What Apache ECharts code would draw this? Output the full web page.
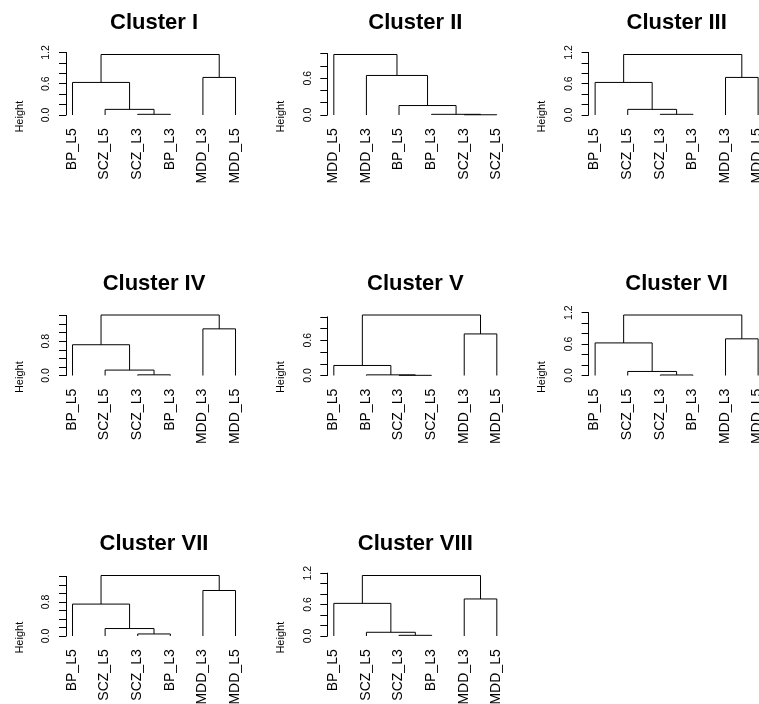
<!DOCTYPE html>
<html><head><meta charset="utf-8">
<script src="https://cdn.jsdelivr.net/npm/echarts@6/dist/echarts.min.js"></script>
<style>html,body{margin:0;padding:0;background:#fff}#c{width:759px;height:704px}</style>
</head><body><div id="c"></div>
<script>
// ---------- data ----------
const titles = ['Cluster I','Cluster II','Cluster III','Cluster IV','Cluster V','Cluster VI','Cluster VII','Cluster VIII'];

const c1Leaves = ['BP_L5','SCZ_L5','SCZ_L3','BP_L3','MDD_L3','MDD_L5'];
const c1Merges = [['SCZ_L3','BP_L3',0.013],['SCZ_L5',1,0.108],['BP_L5',2,0.625],['MDD_L3','MDD_L5',0.721],[3,4,1.161]];
const c1Ticks = ['0.0','0.6','1.2'];
const c1Top = 1.2;

const c2Leaves = ['MDD_L5','MDD_L3','BP_L5','BP_L3','SCZ_L3','SCZ_L5'];
const c2Merges = [['SCZ_L3','SCZ_L5',0.004],['BP_L3',1,0.011],['BP_L5',2,0.154],['MDD_L3',3,0.643],['MDD_L5',4,0.984]];
const c2Ticks = ['0.0','0.6'];
const c2Top = 1.0;

const c3Leaves = ['BP_L5','SCZ_L5','SCZ_L3','BP_L3','MDD_L3','MDD_L5'];
const c3Merges = [['SCZ_L3','BP_L3',0.013],['SCZ_L5',1,0.108],['BP_L5',2,0.625],['MDD_L3','MDD_L5',0.721],[3,4,1.161]];
const c3Ticks = ['0.0','0.6','1.2'];
const c3Top = 1.2;

const c4Leaves = ['BP_L5','SCZ_L5','SCZ_L3','BP_L3','MDD_L3','MDD_L5'];
const c4Merges = [['SCZ_L3','BP_L3',0.016],['SCZ_L5',1,0.126],['BP_L5',2,0.717],['MDD_L3','MDD_L5',1.087],[3,4,1.41]];
const c4Ticks = ['0.0','0.8'];
const c4Top = 1.4;

const c5Leaves = ['BP_L5','BP_L3','SCZ_L3','SCZ_L5','MDD_L3','MDD_L5'];
const c5Merges = [['SCZ_L3','SCZ_L5',0.003],['BP_L3',1,0.011],['BP_L5',2,0.171],['MDD_L3','MDD_L5',0.709],[3,4,1.032]];
const c5Ticks = ['0.0','0.6'];
const c5Top = 1.0;

const c6Leaves = ['BP_L5','SCZ_L5','SCZ_L3','BP_L3','MDD_L3','MDD_L5'];
const c6Merges = [['SCZ_L3','BP_L3',0.010],['SCZ_L5',1,0.077],['BP_L5',2,0.622],['MDD_L3','MDD_L5',0.700],[3,4,1.155]];
const c6Ticks = ['0.0','0.6','1.2'];
const c6Top = 1.2;

const c7Leaves = ['BP_L5','SCZ_L5','SCZ_L3','BP_L3','MDD_L3','MDD_L5'];
const c7Merges = [['SCZ_L3','BP_L3',0.048],['SCZ_L5',1,0.175],['BP_L5',2,0.749],['MDD_L3','MDD_L5',1.068],[3,4,1.42]];
const c7Ticks = ['0.0','0.8'];
const c7Top = 1.4;

const c8Leaves = ['BP_L5','SCZ_L5','SCZ_L3','BP_L3','MDD_L3','MDD_L5'];
const c8Merges = [['SCZ_L3','BP_L3',0.013],['SCZ_L5',1,0.071],['BP_L5',2,0.623],['MDD_L3','MDD_L5',0.707],[3,4,1.155]];
const c8Ticks = ['0.0','0.6','1.2'];
const c8Top = 1.2;

const panels = [
  [c1Leaves,c1Merges,c1Ticks,c1Top],[c2Leaves,c2Merges,c2Ticks,c2Top],[c3Leaves,c3Merges,c3Ticks,c3Top],
  [c4Leaves,c4Merges,c4Ticks,c4Top],[c5Leaves,c5Merges,c5Ticks,c5Top],[c6Leaves,c6Merges,c6Ticks,c6Top],
  [c7Leaves,c7Merges,c7Ticks,c7Top],[c8Leaves,c8Merges,c8Ticks,c8Top]
];

// ---------- layout ----------
const FONT = "'Liberation Sans', Arial, Helvetica, sans-serif";
const COL_W = 261.3, ROW_H = 260.5;
const AXIS_X0 = 66, Y0_0 = 115;
const LEAF_STEP = 32.6, XMIN = 0.8, XMAX = 6.2;
const D = 60.5; // pixel distance from 0 to the top merge

const grids = [], xAxes = [], yAxes = [], series = [], graphics = [];

panels.forEach((p, k) => {
  const [leaves, merges, ticks, yTop] = p;
  const col = k % 3, row = Math.floor(k / 3);
  // node positions derived from merge table
  const nodeX = [], nodeH = [];
  const childPos = c => {
    if (typeof c === 'string') return [leaves.indexOf(c) + 1, 0];
    return [nodeX[c - 1], nodeH[c - 1]];
  };
  const segData = [];
  merges.forEach(m => {
    const [a, b, h] = m;
    const pa = childPos(a), pb = childPos(b);
    nodeX.push((pa[0] + pb[0]) / 2);
    nodeH.push(h);
    segData.push([pa[0], pa[1], pb[0], pb[1], h]);
  });
  const hMax = Math.max(...nodeH);
  const s = D / hMax;
  const left = AXIS_X0 + col * COL_W;
  const width = (XMAX - XMIN) * LEAF_STEP;
  const y0 = Y0_0 + row * ROW_H;
  const gh = yTop * s;
  grids.push({left: left, top: y0 - gh, width: width, height: gh, outerBoundsMode: 'none', containLabel: false});
  xAxes.push({gridIndex: k, type: 'value', min: XMIN, max: XMAX, show: false});
  yAxes.push({
    gridIndex: k, type: 'value', min: 0, max: yTop, interval: 0.2,
    axisLine: {show: true, lineStyle: {color: '#000', width: 1}},
    axisTick: {show: true, length: 7, lineStyle: {color: '#000', width: 1}},
    splitLine: {show: false},
    axisLabel: {
      rotate: 90, margin: 14, fontSize: 10.5, fontFamily: FONT, color: '#000',
      showMinLabel: true, showMaxLabel: true,
      formatter: v => { const t = (Math.round(v * 10) / 10).toFixed(1); return ticks.includes(t) ? t : ''; }
    }
  });
  series.push({
    type: 'custom', xAxisIndex: k, yAxisIndex: k, silent: true, animation: false, clip: false,
    encode: {x: [0, 2], y: [1, 3, 4]},
    data: segData,
    renderItem: (params, api) => {
      const p0 = api.coord([api.value(0), api.value(1)]);
      const p1 = api.coord([api.value(0), api.value(4)]);
      const p2 = api.coord([api.value(2), api.value(4)]);
      const p3 = api.coord([api.value(2), api.value(3)]);
      return {type: 'polyline', shape: {points: [p0, p1, p2, p3]}, style: {stroke: '#000', lineWidth: 1, fill: null}};
    }
  });
  series.push({
    type: 'custom', xAxisIndex: k, yAxisIndex: k, silent: true, animation: false, clip: false,
    encode: {x: 0, y: 1},
    data: leaves.map((l, i) => [i + 1, 0]),
    renderItem: (params, api) => {
      const pt = api.coord([api.value(0), api.value(1)]);
      return {type: 'text', x: pt[0] - 0.5, y: pt[1] + 13.3, rotation: Math.PI / 2,
        style: {text: leaves[params.dataIndex], align: 'right', verticalAlign: 'middle', textAlign: 'right', textVerticalAlign: 'middle',
          font: '14px ' + FONT, fill: '#000'}};
    }
  });
  graphics.push({type: 'text', x: left + width / 2, y: row * ROW_H + 23, silent: true,
    style: {text: titles[k], align: 'center', verticalAlign: 'middle', textAlign: 'center', textVerticalAlign: 'middle',
      font: 'bold 22px ' + FONT, fill: '#000'}});
  graphics.push({type: 'text', x: left - 46.5, y: y0 + 1.7, rotation: Math.PI / 2, silent: true,
    style: {text: 'Height', align: 'center', verticalAlign: 'middle', textAlign: 'center', textVerticalAlign: 'middle',
      font: '11px ' + FONT, fill: '#000'}});
});

const chart = echarts.init(document.getElementById('c'), null, {renderer: 'canvas'});
chart.setOption({
  animation: false,
  backgroundColor: '#fff',
  grid: grids, xAxis: xAxes, yAxis: yAxes, series: series, graphic: graphics
});
</script></body></html>
